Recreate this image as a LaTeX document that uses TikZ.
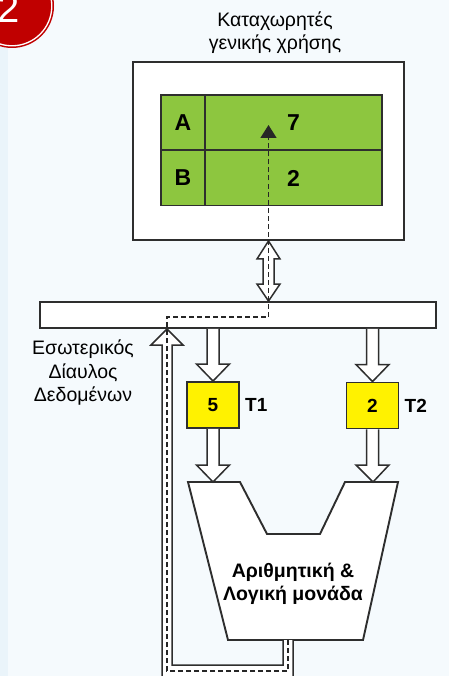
\documentclass[tikz,border=0pt]{standalone}
\usepackage{fontspec}
\setmainfont{Liberation Sans}
\usetikzlibrary{arrows.meta,calc}
\definecolor{bgc}{HTML}{F5FAFD}
\definecolor{stripc}{HTML}{EAF4FA}
\definecolor{regred}{HTML}{C00000}
\definecolor{reggreen}{HTML}{8DC63F}
\definecolor{regyellow}{HTML}{FFF200}
\definecolor{linec}{HTML}{2E2E2E}
\tikzset{
  outl/.style={draw=linec, line width=1.9pt},
  blk/.style={draw=linec, line width=1.5pt, fill=white, line join=miter},
  dashpath/.style={draw=black!85, line width=1.5pt, dash pattern=on 5pt off 3pt},
  cell/.style={outl, fill=reggreen, minimum height=55pt, inner sep=0pt, font=\bfseries\fontsize{23}{25}\selectfont},
  tbox/.style={outl, fill=regyellow, minimum width=52pt, minimum height=46pt, inner sep=0pt, font=\bfseries\fontsize{19}{21}\selectfont},
  tlabel/.style={font=\bfseries\fontsize{19}{21}\selectfont, anchor=west, inner sep=0pt},
}
% downward block arrow: from top point #1 to tip #2
\newcommand{\downblock}[2]{%
  \draw[blk] let \p1=(#1), \p2=(#2) in
    (\x1-6pt,\y1) -- (\x1-6pt,\y2+17pt) -- (\x1-16.5pt,\y2+17pt) -- (\x2,\y2)
    -- (\x1+16.5pt,\y2+17pt) -- (\x1+6pt,\y2+17pt) -- (\x1+6pt,\y1);}
\begin{document}
\begin{tikzpicture}[x=1pt,y=-1pt]
\useasboundingbox (0,0) rectangle (449,676);
\fill[bgc] (0,0) rectangle (449,676);
\fill[stripc] (0,0) rectangle (8,676);
% badge
\fill[regred] (12,6) circle (42);
\draw[white, line width=1.3pt] (12,6) circle (39.8);
\node[anchor=base west, text=white, inner sep=0pt, font=\fontsize{40}{40}\selectfont] (badge) at (-3,23) {2};
% title
\node[align=center, font=\fontsize{19.5}{23}\selectfont, inner sep=0pt] (title) at (275,33) {Καταχωρητές\\γενικής χρήσης};
% register file
\node[outl, fill=white, minimum width=271pt, minimum height=178pt, inner sep=0pt] (regs) at (268.5,151) {};
\node[cell, minimum width=44pt] (ca) at (183,122.5) {A};
\node[cell, minimum width=177pt] (c7) at (293.5,122.5) {7};
\node[cell, minimum width=44pt] (cb) at (183,178) {B};
\node[cell, minimum width=177pt] (c2) at (293.5,178) {2};
% bus
\node[outl, fill=white, minimum width=396pt, minimum height=26pt, inner sep=0pt] (bus) at (238,315) {};
\node[align=center, font=\fontsize{19.5}{23.5}\selectfont, inner sep=0pt] (buslabel) at (83,373) {Εσωτερικός\\Δίαυλος\\Δεδομένων};
% T registers
\node[tbox] (t1) at (213,405) {5};
\node[tlabel] (t1l) at ([xshift=5pt]t1.east) {T1};
\node[tbox] (t2) at (372.5,405.5) {2};
\node[tlabel] (t2l) at ([xshift=5pt]t2.east) {T2};
% ALU
\draw[outl, fill=white, line join=miter] (188,482) -- (240,482) -- (267,534) -- (320,534) -- (345,482) -- (398,482) -- (363,640) -- (228,640) -- cycle;
\coordinate (alutl) at (213,482);
\coordinate (alutr) at (373,482);
\coordinate (alubot) at (288,640);
\node[align=center, font=\bfseries\fontsize{19.5}{23}\selectfont, inner sep=0pt] (alu) at (293,584) {Αριθμητική \&\\Λογική μονάδα};
% block arrows bus -> T, T -> ALU
\downblock{bus.south -| t1.north}{t1.north}
\downblock{bus.south -| t2.north}{t2.north}
\downblock{t1.south}{alutl}
\downblock{t2.south}{alutr}
% double arrow regs <-> bus
\coordinate (dtop) at (regs.south -| 268.5,0);
\coordinate (dbot) at (bus.north -| 268.5,0);
\draw[blk] let \p1=(dtop), \p2=(dbot) in
  (\x1,\y1) -- (\x1+11.5pt,\y1-18pt) -- (\x1+5.5pt,\y1-18pt) -- (\x1+5.5pt,\y2+17pt) -- (\x1+11.5pt,\y2+17pt)
  -- (\x2,\y2) -- (\x1-11.5pt,\y2+17pt) -- (\x1-5.5pt,\y2+17pt) -- (\x1-5.5pt,\y1-18pt) -- (\x1-11.5pt,\y1-18pt) -- cycle;
% return channel ALU -> bus
\coordinate (rtip) at (bus.south -| 167,0);
\draw[blk] (283,640) -- (283,665) -- (172,665) -- (172,345) -- (183,345) -- (rtip)
  -- (151,345) -- (162,345) -- (162,678) -- (293,678) -- (293,640);
% dashed data path
\coordinate (dc1) at (288,671);
\coordinate (dc2) at (167,671);
\coordinate (dc3) at (167,317);
\coordinate (dc4) at (268.5,317);
\coordinate (dtip) at (268.5,125);
\draw[dashpath, -{Triangle[length=13pt,width=16pt]}] (alubot) -- (dc1) -- (dc2) -- (dc3) -- (dc4) -- (dtip);
\end{tikzpicture}
\end{document}
